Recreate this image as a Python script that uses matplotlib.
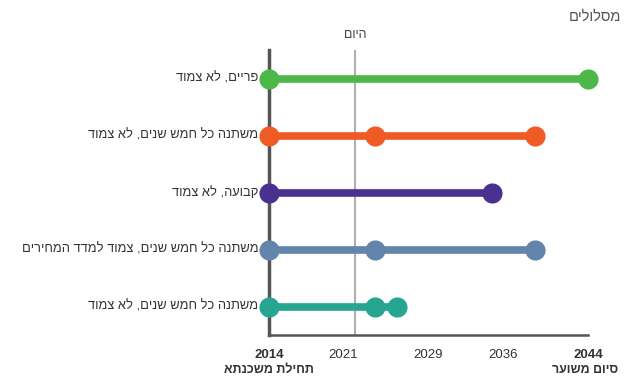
import matplotlib.pyplot as plt

plt.rcParams['font.family'] = ['Liberation Sans', 'DejaVu Sans']


def heb(s):
    # matplotlib has no bidi support, so flip hebrew strings by hand
    return s[::-1]


paths = ['פריים, לא צמוד',
         'משתנה כל חמש שנים, לא צמוד',
         'קבועה, לא צמוד',
         'משתנה כל חמש שנים, צמוד למדד המחירים',
         'משתנה כל חמש שנים, לא צמוד']
points = [[2014, 2044],
          [2014, 2024, 2039],
          [2014, 2035],
          [2014, 2024, 2039],
          [2014, 2024, 2026]]
colors = ['#4cb849', '#ef5a25', '#4a3190', '#6384ab', '#26a590']
today = 2022.1
ticks = [2014, 2021, 2029, 2036, 2044]

W, H = 638, 389
fig = plt.figure(figsize=(W / 100, H / 100), dpi=100)
ax = fig.add_axes([269 / W, (H - 335) / H, (588 - 269) / W, (335 - 50) / H])

ax.axvline(today, color='#b0b0b0', lw=1.5, zorder=1)

for i, (name, pts, c) in enumerate(zip(paths, points, colors)):
    ax.plot([pts[0], pts[-1]], [i, i], color=c, lw=5.5, solid_capstyle='butt',
            zorder=2, clip_on=False)
    ax.scatter(pts, [i] * len(pts), s=210, color=c, zorder=3, clip_on=False,
               linewidths=0)
    ax.text(pts[0] - 1.0, i, heb(name), ha='right', va='center',
            fontsize=9.3, color='#333333')

ax.set_xlim(2014, 2044)
ax.set_ylim(4.5, -0.5)
ax.set_yticks([])
ax.set_xticks(ticks)
ax.set_xticklabels([str(t) for t in ticks], fontsize=9.5, color='#333333')
for lab in ax.get_xticklabels():
    if lab.get_text() in ('2014', '2044'):
        lab.set_fontweight('bold')
ax.tick_params(axis='x', length=0, pad=10)

for s in ['top', 'right']:
    ax.spines[s].set_visible(False)
ax.spines['left'].set_color('#555555')
ax.spines['left'].set_linewidth(2.5)
ax.spines['bottom'].set_color('#555555')
ax.spines['bottom'].set_linewidth(1.8)
ax.set_zorder(1)

fig.text(269 / W, 1 - 370 / H, heb('תחילת משכנתא'), ha='center', va='center',
         fontsize=9, fontweight='bold', color='#333333')
fig.text(585 / W, 1 - 370 / H, heb('סיום משוער'), ha='center', va='center',
         fontsize=9, fontweight='bold', color='#333333')
fig.text(355 / W, 1 - 35 / H, heb('היום'), ha='center', va='center',
         fontsize=9, color='#444444')
fig.text(621 / W, 1 - 17 / H, heb('מסלולים'), ha='right', va='center',
         fontsize=10.5, color='#555555')

plt.savefig('out.png', dpi=100)
